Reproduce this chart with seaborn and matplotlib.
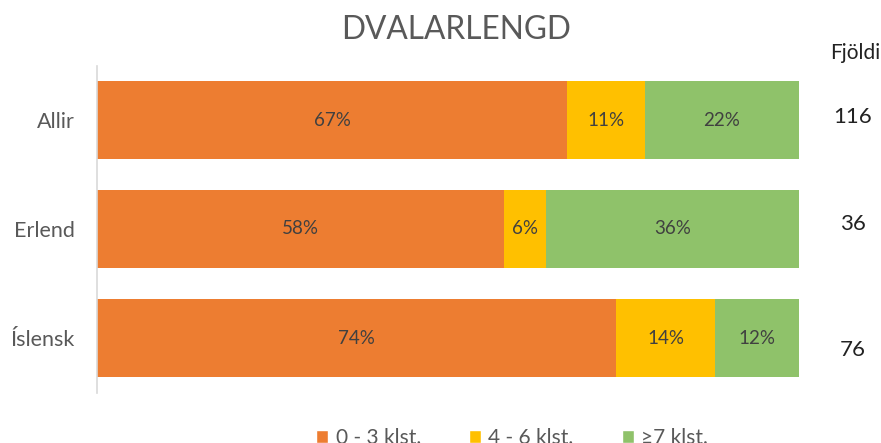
import numpy as np
import pandas as pd
import matplotlib
matplotlib.use("Agg")
import matplotlib.pyplot as plt
import seaborn as sns
from matplotlib.patches import Patch

sns.set_theme(style="white")
plt.rcParams["font.family"] = ["Lato", "DejaVu Sans"]

groups = ["Allir", "Erlend", "Íslensk"]
short = [67, 58, 74]      # 0 - 3 klst.
mid = [11, 6, 14]         # 4 - 6 klst.
long_ = [22, 36, 12]      # ≥7 klst.
counts = [116, 36, 76]
series = ["0 - 3 klst.", "4 - 6 klst.", "≥7 klst."]
colors = ["#ED7D31", "#FFC000", "#8FC26A"]

df = pd.DataFrame({"group": groups, "s": short, "m": mid, "l": long_})
df["c1"] = df["s"]
df["c2"] = df["s"] + df["m"]
df["c3"] = df["c2"] + df["l"]

fig = plt.figure(figsize=(8.81, 4.43), dpi=100)
ax = fig.add_axes([97 / 881, 1 - 392.5 / 443, 702 / 881, 327 / 443])

# stacked by overdrawing cumulative totals, widest first
for col, color in zip(["c3", "c2", "c1"], colors[::-1]):
    sns.barplot(data=df, x=col, y="group", orient="h", color=color,
                width=0.716, saturation=1, ax=ax, linewidth=0)

ax.set_xlim(0, 100)
ax.set_ylim(2.5, -0.5)
ax.set_xlabel("")
ax.set_ylabel("")
ax.set_xticks([])
ax.tick_params(axis="y", length=0, pad=16, labelsize=15.5, labelcolor="#595959")
for sp in ["top", "right", "bottom"]:
    ax.spines[sp].set_visible(False)
ax.spines["left"].set_color("#D9D9D9")
ax.spines["left"].set_linewidth(1.2)

# segment labels
for i, row in df.iterrows():
    starts = [0, row["c1"], row["c2"]]
    for start, val in zip(starts, [row["s"], row["m"], row["l"]]):
        ax.text(start + val / 2, i, f"{val}%", ha="center", va="center",
                fontsize=13.5, color="#404040")

# counts column
trans = matplotlib.transforms.blended_transform_factory(fig.transFigure, ax.transData)
offsets = [-0.03, -0.05, 0.11]
for i, (n, off) in enumerate(zip(counts, offsets)):
    ax.text(853 / 881, i + off, str(n), transform=trans, ha="center", va="center",
            fontsize=16, color="#222222")
fig.text(855 / 881, 1 - 53 / 443, "Fjöldi", ha="center", va="center",
         fontsize=15, color="#222222")

fig.text(456 / 881, 1 - 30 / 443, "DVALARLENGD", ha="center", va="center",
         fontsize=22.8, color="#595959")

handles = [Patch(facecolor=c, label=s) for c, s in zip(colors, series)]
fig.legend(handles=handles, loc="center", bbox_to_anchor=(512 / 881, 1 - 438 / 443),
           ncol=3, frameon=False, fontsize=15, labelcolor="#595959",
           handlelength=0.6, handleheight=0.6, handletextpad=0.35, columnspacing=2.3)

fig.savefig("out.png", dpi=100)
